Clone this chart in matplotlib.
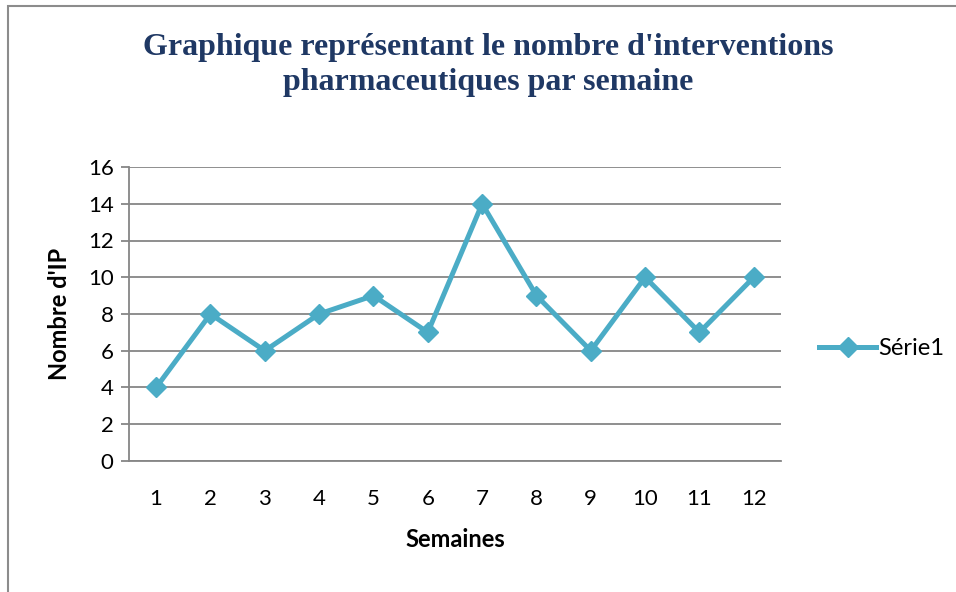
import matplotlib.pyplot as plt
from matplotlib.patches import Rectangle

# data
semaines = [1, 2, 3, 4, 5, 6, 7, 8, 9, 10, 11, 12]
nombre_ip = [4, 8, 6, 8, 9, 7, 14, 9, 6, 10, 7, 10]
serie_label = "Série1"
y_ticks = [0, 2, 4, 6, 8, 10, 12, 14, 16]

line_color = '#4BACC6'
grid_color = '#868686'

fig = plt.figure(figsize=(9.56, 5.92), dpi=100)
ax = fig.add_axes([0.1349, 0.2213, 0.682, 0.4966])

# chart border (cut off on right and bottom in the source)
fig.patches.append(Rectangle((8 / 956, -0.05), 1.2, 1 - 6 / 592 + 0.05,
                             transform=fig.transFigure, fill=False,
                             edgecolor='#8C8C8C', linewidth=1.5))

ax.plot(semaines, nombre_ip, color=line_color, linewidth=3.6,
        marker='D', markersize=10, label=serie_label)

ax.set_xlim(0.5, 12.5)
ax.set_ylim(0, 16)
ax.set_yticks(y_ticks)
ax.set_xticks(semaines)
ax.yaxis.grid(True, color=grid_color, linewidth=1.3)
ax.set_axisbelow(True)

for side in ['top', 'right']:
    ax.spines[side].set_visible(False)
ax.spines['left'].set_color(grid_color)
ax.spines['left'].set_linewidth(1.3)
ax.spines['bottom'].set_color(grid_color)
ax.spines['bottom'].set_linewidth(1.3)

ax.tick_params(axis='y', length=6, width=1.3, color=grid_color, pad=5,
               labelsize=16)
ax.tick_params(axis='x', length=0, pad=20, labelsize=16)
for lbl in ax.get_xticklabels() + ax.get_yticklabels():
    lbl.set_fontfamily('Lato')

ax.set_xlabel('Semaines', fontsize=17, fontweight='bold', family='Lato',
              labelpad=14)
ax.set_ylabel("Nombre d'IP", fontsize=17, fontweight='bold', family='Lato',
              labelpad=12)

fig.text(488 / 956, 1 - 65 / 592,
         "Graphique représentant le nombre d'interventions\npharmaceutiques par semaine",
         ha='center', va='center', fontsize=23, fontweight='bold',
         family='Liberation Serif', color='#1F3864', linespacing=1.25)

fig.legend(loc='center left', bbox_to_anchor=(798 / 956, 1 - 349 / 592),
           frameon=False, prop={'family': 'Lato', 'size': 17},
           handlelength=2.4, handletextpad=0.1)

fig.savefig('out.png', dpi=100)
